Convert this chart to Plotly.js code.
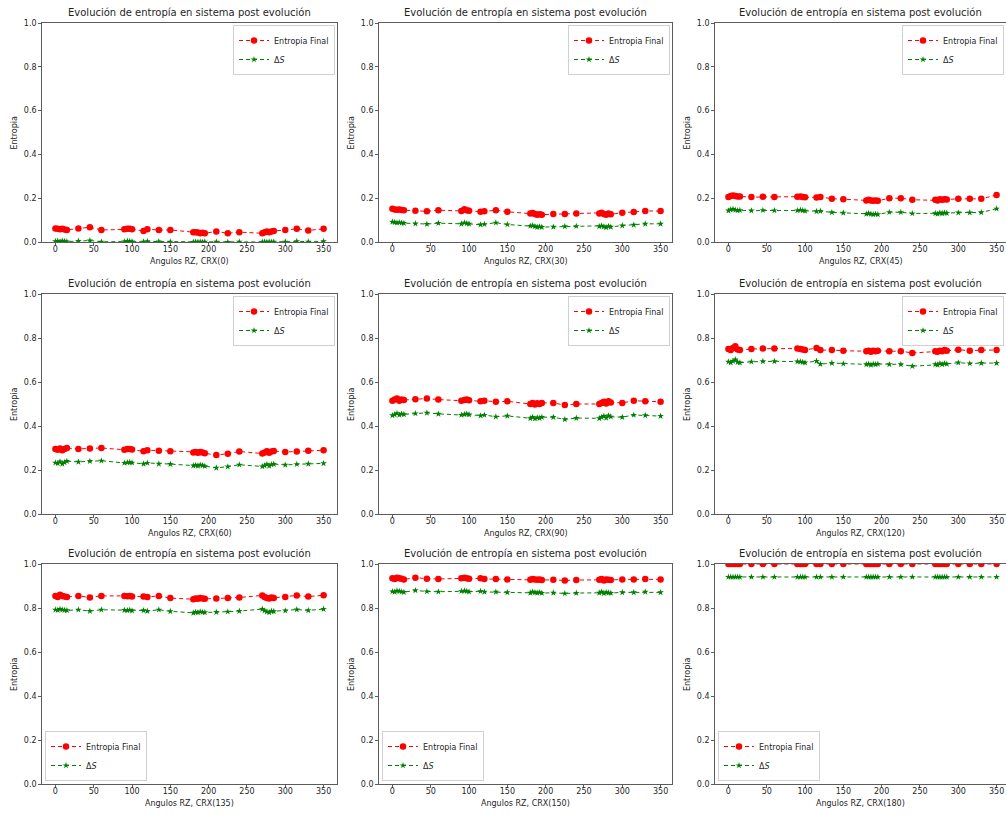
<!DOCTYPE html>
<html>
<head>
<meta charset="utf-8">
<script src="https://cdn.plot.ly/plotly-3.0.1.min.js"></script>
<style>
  html, body { margin: 0; padding: 0; background: #ffffff; }
  #chart { width: 1006px; height: 815px; }
</style>
</head>
<body>
<div id="chart"></div>
<script>
// Rotation angles (degrees) applied with RZ
const angulos = [0, 3, 6, 9, 12, 15, 30, 45, 60, 90, 94, 97, 100, 115, 120, 135, 150,
  180, 183, 186, 189, 192, 195, 210, 225, 240, 270, 273, 276, 279, 282, 285, 300, 315, 330, 350];

// CRX angle used in each panel
const crxAngulos = [0, 30, 45, 60, 90, 120, 135, 150, 180];

// Final entropy and entropy change for each CRX angle
const entropiaFinal_0 = [0.062,0.060,0.058,0.060,0.057,0.055, 0.062,0.067,0.055, 0.058,0.060,0.060,0.058, 0.050,0.058, 0.055,0.055, 0.045,0.045,0.043,0.040,0.042,0.040, 0.048,0.040,0.045, 0.040,0.045,0.048,0.045,0.048,0.050, 0.055,0.060,0.053,0.060];
const deltaS_0 = [0.003,0.004,0.002,0.005,0.003,0.002, 0.004,0.007,0.001, 0.002,0.004,0.003,0.002, 0.001,0.003, 0.002,0.001, 0.000,0.001,0.000,0.001,0.000,0.001, 0.001,0.000,0.001, 0.000,0.001,0.000,0.001,0.000,0.001, 0.001,0.003,0.001,0.003];

const entropiaFinal_30 = [0.152,0.148,0.147,0.148,0.146,0.145, 0.143,0.140,0.145, 0.142,0.150,0.145,0.143, 0.138,0.140, 0.145,0.138, 0.130,0.132,0.128,0.125,0.127,0.125, 0.128,0.128,0.130, 0.130,0.133,0.128,0.125,0.130,0.127, 0.133,0.137,0.142,0.141];
const deltaS_30 = [0.092,0.090,0.088,0.089,0.087,0.086, 0.084,0.082,0.086, 0.083,0.088,0.085,0.083, 0.079,0.081, 0.088,0.080, 0.073,0.075,0.071,0.068,0.070,0.068, 0.069,0.071,0.072, 0.071,0.074,0.070,0.067,0.072,0.069, 0.075,0.078,0.083,0.083];

const entropiaFinal_45 = [0.205,0.210,0.212,0.210,0.208,0.208, 0.205,0.207,0.206, 0.207,0.208,0.206,0.204, 0.203,0.205, 0.198,0.195, 0.190,0.193,0.190,0.188,0.190,0.188, 0.200,0.200,0.193, 0.193,0.190,0.195,0.193,0.195,0.194, 0.197,0.197,0.197,0.215];
const deltaS_45 = [0.143,0.148,0.150,0.146,0.144,0.145, 0.143,0.145,0.144, 0.144,0.146,0.144,0.142, 0.140,0.141, 0.135,0.133, 0.128,0.131,0.128,0.126,0.128,0.126, 0.136,0.136,0.130, 0.131,0.128,0.133,0.131,0.133,0.132, 0.134,0.134,0.135,0.152];

const entropiaFinal_60 = [0.295,0.292,0.298,0.290,0.296,0.300, 0.296,0.298,0.300, 0.292,0.295,0.296,0.293, 0.285,0.290, 0.288,0.285, 0.280,0.282,0.278,0.282,0.280,0.276, 0.268,0.274,0.284, 0.275,0.280,0.285,0.278,0.284,0.286, 0.282,0.284,0.287,0.290];
const deltaS_60 = [0.233,0.230,0.238,0.228,0.235,0.240, 0.237,0.240,0.242, 0.232,0.234,0.235,0.233, 0.228,0.232, 0.228,0.227, 0.220,0.222,0.219,0.223,0.221,0.217, 0.210,0.215,0.224, 0.216,0.220,0.226,0.219,0.225,0.227, 0.223,0.226,0.228,0.230];

const entropiaFinal_90 = [0.515,0.520,0.525,0.515,0.520,0.518, 0.522,0.525,0.520, 0.515,0.518,0.520,0.517, 0.512,0.515, 0.510,0.512, 0.500,0.505,0.498,0.503,0.500,0.505, 0.505,0.495,0.500, 0.500,0.505,0.510,0.502,0.512,0.507, 0.505,0.515,0.512,0.510];
const deltaS_90 = [0.448,0.452,0.458,0.450,0.455,0.453, 0.457,0.460,0.455, 0.450,0.453,0.455,0.452, 0.447,0.450, 0.442,0.446, 0.435,0.440,0.433,0.438,0.436,0.440, 0.440,0.430,0.436, 0.435,0.440,0.445,0.437,0.447,0.442, 0.440,0.450,0.448,0.445];

const entropiaFinal_120 = [0.750,0.745,0.755,0.762,0.748,0.745, 0.750,0.752,0.752, 0.752,0.750,0.748,0.745, 0.755,0.745, 0.745,0.742, 0.740,0.742,0.738,0.742,0.740,0.742, 0.740,0.740,0.732, 0.740,0.738,0.742,0.740,0.745,0.742, 0.747,0.742,0.745,0.745];
const deltaS_120 = [0.692,0.688,0.695,0.702,0.690,0.688, 0.692,0.694,0.694, 0.693,0.692,0.690,0.688, 0.695,0.681, 0.686,0.683, 0.680,0.682,0.678,0.682,0.680,0.682, 0.680,0.680,0.672, 0.680,0.678,0.684,0.680,0.684,0.682, 0.688,0.684,0.686,0.686];

const entropiaFinal_135 = [0.855,0.850,0.860,0.855,0.852,0.850, 0.855,0.848,0.855, 0.855,0.853,0.855,0.852, 0.852,0.850, 0.855,0.845, 0.840,0.843,0.842,0.845,0.843,0.842, 0.843,0.845,0.848, 0.857,0.850,0.845,0.843,0.848,0.846, 0.850,0.857,0.852,0.858];
const deltaS_135 = [0.792,0.790,0.795,0.792,0.790,0.789, 0.792,0.786,0.792, 0.790,0.789,0.791,0.788, 0.789,0.786, 0.792,0.785, 0.778,0.781,0.780,0.783,0.781,0.780, 0.781,0.783,0.786, 0.795,0.788,0.783,0.780,0.786,0.785, 0.788,0.793,0.789,0.795];

const entropiaFinal_150 = [0.935,0.932,0.938,0.935,0.933,0.930, 0.938,0.933,0.932, 0.935,0.937,0.935,0.933, 0.935,0.932, 0.932,0.930, 0.928,0.932,0.930,0.928,0.930,0.927, 0.928,0.925,0.927, 0.928,0.932,0.925,0.930,0.928,0.927, 0.930,0.930,0.932,0.930];
const deltaS_150 = [0.875,0.873,0.878,0.876,0.874,0.872, 0.880,0.875,0.874, 0.876,0.878,0.876,0.874, 0.876,0.873, 0.873,0.871, 0.869,0.873,0.871,0.869,0.871,0.868, 0.869,0.866,0.868, 0.869,0.873,0.866,0.871,0.869,0.868, 0.871,0.871,0.873,0.871];

const entropiaFinal_180 = [1.000,1.000,1.000,1.000,1.000,1.000, 1.000,1.000,1.000, 1.000,1.000,1.000,1.000, 1.000,1.000, 1.000,1.000, 1.000,1.000,1.000,1.000,1.000,1.000, 1.000,1.000,1.000, 1.000,1.000,1.000,1.000,1.000,1.000, 1.000,1.000,1.000,1.000];
const deltaS_180 = [0.941,0.941,0.941,0.941,0.941,0.941, 0.941,0.941,0.941, 0.941,0.941,0.941,0.941, 0.941,0.941, 0.941,0.941, 0.941,0.941,0.941,0.941,0.941,0.941, 0.941,0.941,0.941, 0.941,0.941,0.941,0.941,0.941,0.941, 0.941,0.941,0.941,0.941];

const serieFinal = [entropiaFinal_0, entropiaFinal_30, entropiaFinal_45, entropiaFinal_60, entropiaFinal_90,
  entropiaFinal_120, entropiaFinal_135, entropiaFinal_150, entropiaFinal_180];
const serieDelta = [deltaS_0, deltaS_30, deltaS_45, deltaS_60, deltaS_90,
  deltaS_120, deltaS_135, deltaS_150, deltaS_180];

const xTicks = [0, 50, 100, 150, 200, 250, 300, 350];
const yTicks = [0, 0.2, 0.4, 0.6, 0.8, 1.0];
const tituloPanel = 'Evolución de entropía en sistema post evolución';
const etiquetaFinal = 'Entropia Final';
const etiquetaDelta = 'Δ<i>S</i>';

// Panel geometry in pixels
const W = 1006, H = 815;
const colBox = [[42, 337], [379, 672], [715, 1006]];
const rowBox = [[23, 242], [294, 514], [564, 784]];
const pxPerUnit = 295 / 385;
const px = v => v / W;
const py = v => 1 - v / H;

const FONT = 'DejaVu Sans, sans-serif';
const INK = '#1f1f1f';
const axisFont = {family: FONT, size: 8, color: INK};
const traces = [];
const layout = {
  width: W, height: H,
  margin: {l: 0, r: 0, t: 0, b: 0},
  paper_bgcolor: '#ffffff',
  plot_bgcolor: '#ffffff',
  showlegend: true,
  annotations: []
};

crxAngulos.forEach((crx, i) => {
  const r = Math.floor(i / 3), c = i % 3;
  const [x0, x1] = colBox[c];
  const [y0, y1] = rowBox[r];
  const n = i + 1;
  const sfx = n === 1 ? '' : String(n);
  const xr = 'x' + sfx, yr = 'y' + sfx, lg = 'legend' + sfx;

  const xmin = -17.5;
  const xmax = xmin + (x1 - x0) / pxPerUnit;

  layout['xaxis' + sfx] = {
    domain: [px(x0), px(x1)], anchor: yr, range: [xmin, xmax],
    tickvals: xTicks, ticklabelstandoff: -3,
    ticks: 'outside', ticklen: 3, tickwidth: 0.8, tickcolor: '#333',
    showline: true, linecolor: '#333', linewidth: 0.8, mirror: true,
    showgrid: false, zeroline: false, tickfont: axisFont, fixedrange: true
  };
  layout['yaxis' + sfx] = {
    domain: [py(y1), py(y0)], anchor: xr, range: [0, 1],
    tickvals: yTicks, tickformat: '.1f',
    ticks: 'outside', ticklen: 3, tickwidth: 0.8, tickcolor: '#333',
    showline: true, linecolor: '#333', linewidth: 0.8, mirror: true,
    showgrid: false, zeroline: false, tickfont: axisFont, fixedrange: true
  };

  // Legend: top-right on the first two rows, bottom-left on the last row
  const legendPos = r < 2
    ? {x: px(x1 - 2), y: py(y0 + 2), xanchor: 'right', yanchor: 'top'}
    : {x: px(x0 + 3), y: py(y1 - 3), xanchor: 'left', yanchor: 'bottom'};
  layout[lg] = Object.assign({
    bgcolor: 'rgba(255,255,255,0.85)', bordercolor: '#d0d0d0', borderwidth: 1,
    font: {family: FONT, size: 8, color: INK},
    itemwidth: 30, tracegroupgap: 0, traceorder: 'normal'
  }, legendPos);

  traces.push({
    x: angulos, y: serieFinal[i], xaxis: xr, yaxis: yr, legend: lg,
    name: etiquetaFinal, type: 'scatter', mode: 'lines+markers',
    line: {color: '#ff0000', width: 1, dash: '4px,3px'},
    marker: {color: '#ff0000', size: 6.5, symbol: 'circle'},
    cliponaxis: true, hoverinfo: 'skip'
  });
  traces.push({
    x: angulos, y: serieDelta[i], xaxis: xr, yaxis: yr, legend: lg,
    name: etiquetaDelta, type: 'scatter', mode: 'lines+markers',
    line: {color: '#008000', width: 1, dash: '4px,3px'},
    marker: {color: '#008000', size: 5, symbol: 'star'},
    cliponaxis: true, hoverinfo: 'skip'
  });

  // Panel title
  layout.annotations.push({
    xref: 'paper', yref: 'paper', x: px((x0 + x1) / 2), y: py(y0 - 3),
    xanchor: 'center', yanchor: 'bottom', showarrow: false,
    text: tituloPanel,
    font: {family: FONT, size: 10, color: INK}
  });
  // X-axis label
  layout.annotations.push({
    xref: 'paper', yref: 'paper', x: px((x0 + x1) / 2), y: py(y1 + 13),
    xanchor: 'center', yanchor: 'top', showarrow: false,
    text: 'Angulos RZ, CRX(' + crx + ')',
    font: {family: FONT, size: 8, color: INK}
  });
  // Y-axis label
  layout.annotations.push({
    xref: 'paper', yref: 'paper', x: px(x0 - 28), y: py((y0 + y1) / 2),
    xanchor: 'center', yanchor: 'middle', showarrow: false, textangle: -90,
    text: 'Entropia',
    font: {family: FONT, size: 8, color: INK}
  });
});

Plotly.newPlot('chart', traces, layout, {staticPlot: true, displayModeBar: false});
</script>
</body>
</html>
